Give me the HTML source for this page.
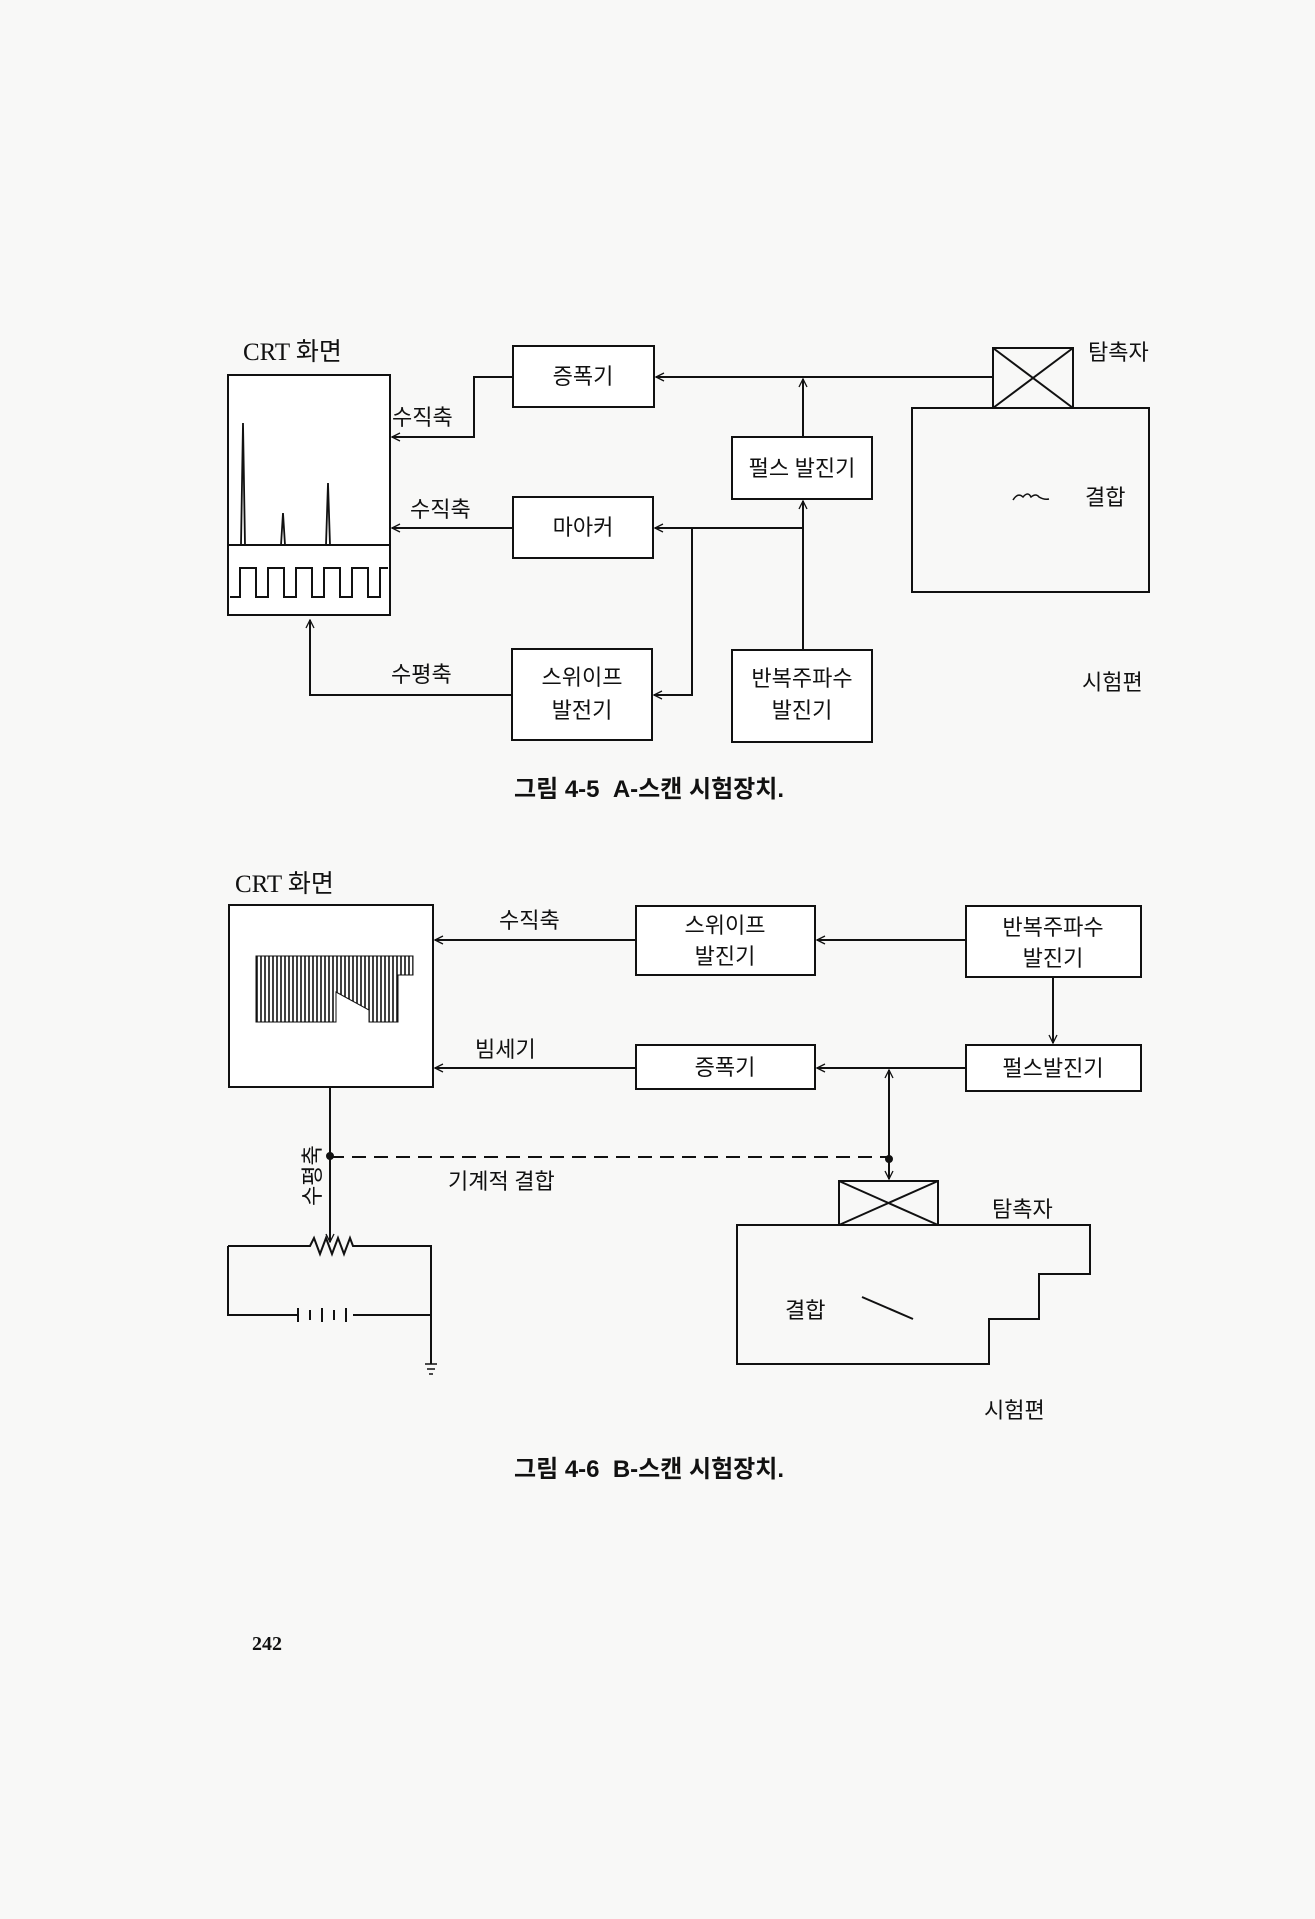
<!DOCTYPE html>
<html><head><meta charset="utf-8"><style>
html,body{margin:0;padding:0;background:#f8f8f7;}
svg{display:block}
text{font-family:"Liberation Serif","Noto Sans CJK KR",serif;fill:#111;}
.k{font-family:"Liberation Sans","Noto Sans CJK KR",sans-serif;font-size:22px;}
.m{text-anchor:middle}
.c{font-family:"Liberation Sans","Noto Sans CJK KR",sans-serif;font-size:24px;font-weight:bold;}
</style></head><body>
<svg width="1315" height="1919" viewBox="0 0 1315 1919" xmlns="http://www.w3.org/2000/svg">
<defs>
<marker id="a" markerWidth="10" markerHeight="10" refX="9" refY="5" orient="auto" markerUnits="userSpaceOnUse">
<path d="M1,1 L9,5 L1,9" fill="none" stroke="#111" stroke-width="1.3"/></marker>
<pattern id="h" width="4" height="4" patternUnits="userSpaceOnUse"><rect width="4" height="4" fill="#fff"/><line x1="1" y1="0" x2="1" y2="4" stroke="#111" stroke-width="1.6"/></pattern>
</defs>
<rect x="0" y="0" width="1315" height="1919" fill="#f8f8f7"/>
<g fill="none" stroke="#111" stroke-width="2">
<rect x="228" y="375" width="162" height="240" fill="#fff"/>
<line x1="228" y1="545" x2="390" y2="545"/>
<path d="M241,545 L243,423 L245,545 M281,545 L283,513 L285,545 M326,545 L328,483 L330,545" stroke-width="1.8"/>
<path d="M230,597 L240,597 L240,568 L256,568 L256,597 L268,597 L268,568 L284,568 L284,597 L296,597 L296,568 L312,568 L312,597 L324,597 L324,568 L340,568 L340,597 L352,597 L352,568 L368,568 L368,597 L380,597 L380,568 L388,568"/>
<rect x="513" y="346" width="141" height="61" fill="#fff"/>
<rect x="732" y="437" width="140" height="62" fill="#fff"/>
<rect x="513" y="497" width="140" height="61" fill="#fff"/>
<rect x="512" y="649" width="140" height="91" fill="#fff"/>
<rect x="732" y="650" width="140" height="92" fill="#fff"/>
<rect x="993" y="348" width="80" height="60"/>
<path d="M993,348 L1073,408 M1073,348 L993,408"/>
<rect x="912" y="408" width="237" height="184"/>
<path d="M1013,500 q5,-8 10,-3 q5,-6 8,0 q5,-4 8,0 q5,3 10,2" stroke-width="1.5"/>
<path d="M513,377 L474,377 L474,437 L392,437" marker-end="url(#a)"/>
<path d="M993,377 L656,377" marker-end="url(#a)"/>
<path d="M803,437 L803,379" marker-end="url(#a)"/>
<path d="M803,650 L803,501" marker-end="url(#a)"/>
<path d="M513,528 L392,528" marker-end="url(#a)"/>
<path d="M803,528 L655,528" marker-end="url(#a)"/>
<path d="M692,528 L692,695 L654,695" marker-end="url(#a)"/>
<path d="M512,695 L310,695 L310,620" marker-end="url(#a)"/>
<rect x="229" y="905" width="204" height="182" fill="#fff"/>
<path d="M256,956 L413,956 L413,975 L398,975 L398,1022 L369,1022 L369,1010 L336,992 L336,1022 L256,1022 Z" fill="url(#h)" stroke-width="1"/>
<rect x="636" y="906" width="179" height="69" fill="#fff"/>
<rect x="966" y="906" width="175" height="71" fill="#fff"/>
<rect x="966" y="1045" width="175" height="46" fill="#fff"/>
<rect x="636" y="1045" width="179" height="44" fill="#fff"/>
<path d="M966,940 L817,940" marker-end="url(#a)"/>
<path d="M636,940 L435,940" marker-end="url(#a)"/>
<path d="M1053,977 L1053,1043" marker-end="url(#a)"/>
<path d="M966,1068 L817,1068" marker-end="url(#a)"/>
<path d="M636,1068 L435,1068" marker-end="url(#a)"/>
<path d="M889,1100 L889,1070" marker-end="url(#a)"/>
<path d="M889,1100 L889,1179" marker-end="url(#a)"/>
<line x1="330" y1="1157" x2="889" y2="1157" stroke-dasharray="14,8"/>
<circle cx="330" cy="1156" r="3" fill="#111"/>
<circle cx="889" cy="1159" r="3" fill="#111"/>
<path d="M330,1087 L330,1242" marker-end="url(#a)"/>
<path d="M228,1246 L310,1246 L314,1238 L320,1254 L326,1238 L332,1254 L338,1238 L344,1254 L350,1238 L353,1246 L431,1246 L431,1364"/>
<path d="M228,1246 L228,1315 L298,1315 M353,1315 L431,1315"/>
<path d="M298,1308 L298,1322 M310,1310 L310,1320 M322,1308 L322,1322 M334,1310 L334,1320 M346,1308 L346,1322"/>
<path d="M425,1364 L437,1364 M427,1369 L435,1369 M429,1374 L433,1374" stroke-width="1.5"/>
<rect x="839" y="1181" width="99" height="44"/>
<path d="M839,1181 L938,1225 M938,1181 L839,1225"/>
<path d="M737,1225 L1090,1225 L1090,1274 L1039,1274 L1039,1319 L989,1319 L989,1364 L737,1364 Z"/>
<line x1="862" y1="1297" x2="913" y2="1319"/>
</g>
<g class="k">
<text x="243" y="360" style="font-size:25px">CRT 화면</text>
<text x="392" y="425">수직축</text>
<text x="410" y="517">수직축</text>
<text x="391" y="682">수평축</text>
<text class="m" x="583" y="384">증폭기</text>
<text class="m" x="802" y="476">펄스 발진기</text>
<text class="m" x="583" y="535">마아커</text>
<text class="m" x="582" y="685">스위이프</text>
<text class="m" x="582" y="718">발전기</text>
<text class="m" x="802" y="686">반복주파수</text>
<text class="m" x="802" y="718">발진기</text>
<text x="1088" y="360">탐촉자</text>
<text x="1085" y="505">결합</text>
<text x="1082" y="690">시험편</text>
<text x="235" y="892" style="font-size:25px">CRT 화면</text>
<text x="499" y="928">수직축</text>
<text x="475" y="1057">빔세기</text>
<text class="m" x="725" y="933">스위이프</text>
<text class="m" x="725" y="964">발진기</text>
<text class="m" x="1053" y="935">반복주파수</text>
<text class="m" x="1053" y="966">발진기</text>
<text class="m" x="1053" y="1076">펄스발진기</text>
<text class="m" x="725" y="1075">증폭기</text>
<text x="448" y="1189">기계적 결합</text>
<text x="992" y="1217">탐촉자</text>
<text x="785" y="1318">결합</text>
<text x="984" y="1418">시험편</text>
<text transform="translate(320,1206) rotate(-90)">수평축</text>
</g>
<text class="c" x="514" y="797">그림 4-5&#160;&#160;A-스캔 시험장치.</text>
<text class="c" x="514" y="1477">그림 4-6&#160;&#160;B-스캔 시험장치.</text>
<text x="252" y="1650" style="font-size:20px;font-weight:bold">242</text>
</svg>
</body></html>
